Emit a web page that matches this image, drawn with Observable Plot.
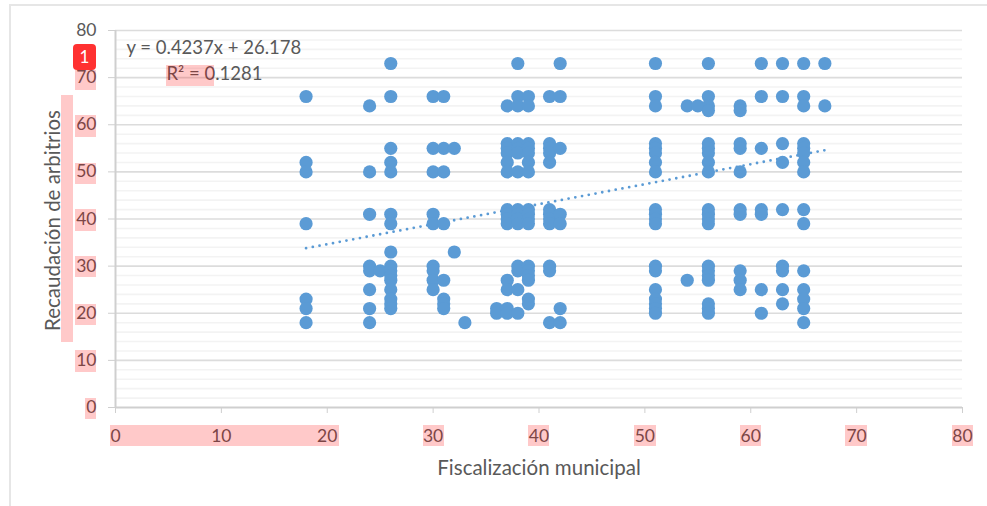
<!DOCTYPE html>
<html>
<head>
<meta charset="utf-8">
<script src="https://cdn.jsdelivr.net/npm/d3@7"></script>
<script src="https://cdn.jsdelivr.net/npm/@observablehq/plot@0.6"></script>
<style>
html,body{margin:0;padding:0;background:#fff;overflow:hidden}
#wrap{position:relative;width:987px;height:506px}
#frame{position:absolute;left:9px;top:4px;right:0;bottom:-4px;border-left:2px solid #e6e6e6;border-top:2px solid #e6e6e6;pointer-events:none}
.hl{position:absolute;background:rgba(255,0,0,.21);pointer-events:none}
#badge{position:absolute;left:73px;top:44px;width:23px;height:26px;background:#ff3131;color:#fff;border-radius:4px;font:17px/26px Lato,sans-serif;text-align:center}
svg{display:block}
</style>
</head>
<body>
<div id="wrap"></div>
<script>
const FONT = "Lato, sans-serif";
const fiscalizacion = [18, 24, 25, 26, 30, 31, 32, 33, 36, 37, 38, 39, 41, 42, 51, 54, 55, 56, 59, 61, 63, 65, 67];
const recaudacion = [
  [66, 52, 50, 39, 23, 21, 18],
  [64, 50, 41, 30, 29, 25, 21, 18],
  [29],
  [73, 66, 55, 52, 50, 41, 39, 33, 30, 29, 28, 27, 25, 23, 22, 21],
  [66, 55, 50, 41, 39, 30, 29, 27, 25],
  [66, 55, 50, 39, 27, 23, 22, 21],
  [55, 33],
  [18],
  [21, 20],
  [64, 56, 55, 54, 52, 50, 42, 41, 40, 39, 27, 25, 21, 20],
  [73, 66, 64, 56, 55, 54, 50, 42, 41, 40, 39, 30, 29, 25, 20],
  [66, 64, 56, 55, 54, 52, 50, 42, 41, 40, 39, 30, 29, 28, 27, 23, 22],
  [66, 56, 55, 54, 52, 42, 41, 40, 39, 30, 29, 18],
  [73, 66, 55, 41, 39, 21, 18],
  [73, 66, 64, 56, 55, 54, 52, 50, 42, 41, 40, 39, 30, 29, 25, 23, 22, 21, 20],
  [64, 27],
  [64],
  [73, 66, 64, 63, 56, 55, 54, 52, 50, 42, 41, 40, 39, 30, 29, 28, 27, 22, 21, 20],
  [64, 63, 56, 55, 50, 42, 41, 29, 27, 25],
  [73, 66, 55, 42, 41, 25, 20],
  [73, 66, 56, 52, 42, 30, 29, 25, 22],
  [73, 66, 64, 56, 55, 54, 52, 50, 42, 39, 29, 25, 23, 21, 18],
  [73, 64]
];
const trendX = [18, 67];
const trendY = [33.8, 54.6];
const majorTicks = [0, 10, 20, 30, 40, 50, 60, 70, 80];
const minorTicks = [2, 4, 6, 8, 12, 14, 16, 18, 22, 24, 26, 28, 32, 34, 36, 38, 42, 44, 46, 48, 52, 54, 56, 58, 62, 64, 66, 68, 72, 74, 76, 78];
const equation = "y = 0.4237x + 26.178";
const rSquared = "R² = 0.1281";
const xTitle = "Fiscalización municipal";
const yTitle = "Recaudación de arbitrios";

const points = fiscalizacion.flatMap((x, i) => recaudacion[i].map(y => ({x, y})));
const trend = trendX.map((x, i) => ({x, y: trendY[i]}));
const grey = "#595959";

const chart = Plot.plot({
  width: 987, height: 506,
  marginLeft: 115, marginRight: 25, marginTop: 30, marginBottom: 99,
  style: {fontFamily: FONT, background: "transparent", overflow: "visible"},
  x: {domain: [0, 80], ticks: majorTicks},
  y: {domain: [0, 80], ticks: majorTicks},
  marks: [
    Plot.ruleY(minorTicks, {stroke: "#f3f3f3", strokeWidth: 1.6}),
    Plot.ruleY(majorTicks.slice(1), {stroke: "#dcdcdc", strokeWidth: 1.6}),
    Plot.axisY({ticks: majorTicks, tickSize: 7, tickPadding: 12, stroke: "#cfcfcf", fill: grey, fontSize: 17.5, label: null, tickFormat: d3.format("d")}),
    Plot.axisX({ticks: majorTicks, tickSize: 6, tickPadding: 16, stroke: "#cfcfcf", fill: grey, fontSize: 17.5, label: null, tickFormat: d3.format("d")}),
    Plot.ruleX([0], {stroke: "#cfcfcf", strokeWidth: 2}),
    Plot.ruleY([0], {stroke: "#cfcfcf", strokeWidth: 2}),
    Plot.line(trend, {x: "x", y: "y", stroke: "#5b9bd5", strokeWidth: 2.8, strokeDasharray: "0 6.85", strokeLinecap: "round"}),
    Plot.dot(points, {x: "x", y: "y", r: 6.6, fill: "#5b9bd5", stroke: "none"}),
    Plot.text([equation], {frameAnchor: "top-left", textAnchor: "start", dx: 11, dy: 18, fill: grey, fontSize: 18.5, lineAnchor: "middle"}),
    Plot.text([rSquared], {frameAnchor: "top-left", textAnchor: "start", dx: 51, dy: 44, fill: grey, fontSize: 18.5, lineAnchor: "middle"}),
    Plot.text([xTitle], {frameAnchor: "bottom", dy: 61, fill: grey, fontSize: 20.5, lineAnchor: "middle", style: {letterSpacing: "1.6px"}}),
    Plot.text([yTitle], {frameAnchor: "left", dx: -62, dy: 1.5, rotate: -90, textAnchor: "middle", fill: grey, fontSize: 20.5, lineAnchor: "middle", style: {letterSpacing: "1.6px"}})
  ]
});

const wrap = document.getElementById("wrap");
wrap.appendChild(chart);
const frame = document.createElement("div");
frame.id = "frame";
wrap.appendChild(frame);

const highlights = [
  [166, 65, 48, 21], [75, 70, 21, 20], [75, 115, 21, 22], [75, 163, 21, 21],
  [75, 209, 21, 22], [75, 256, 21, 21], [75, 304, 21, 21], [75, 350, 21, 22],
  [85, 398, 11, 21], [61, 95, 12, 247], [110, 425, 229, 21], [423, 425, 21, 21],
  [528, 425, 21, 21], [634, 425, 22, 21], [740, 425, 21, 21], [845, 425, 22, 21],
  [952, 425, 21, 21]
];
for (const [l, t, w, h] of highlights) {
  const d = document.createElement("div");
  d.className = "hl";
  d.style.cssText = `left:${l}px;top:${t}px;width:${w}px;height:${h}px`;
  wrap.appendChild(d);
}
const badge = document.createElement("div");
badge.id = "badge";
badge.textContent = "1";
wrap.appendChild(badge);
</script>
</body>
</html>
